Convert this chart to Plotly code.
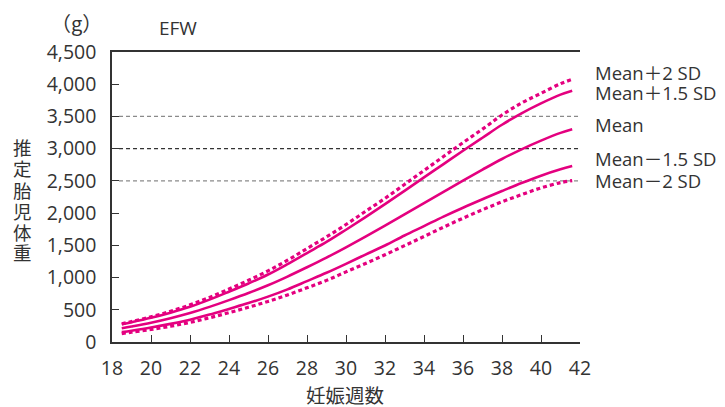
import plotly.graph_objects as go

# ---- data ----
weeks = [18.5, 19, 20, 21, 22, 23, 24, 25, 26, 27, 28, 29, 30,
         31, 32, 33, 34, 35, 36, 37, 38, 39, 40, 41, 41.6]
plus2sd = [282, 317, 390, 477, 576, 692, 822, 958, 1104, 1269, 1450, 1631, 1823,
           2027, 2229, 2445, 2661, 2878, 3094, 3304, 3522, 3708, 3859, 4008, 4076]
plus15sd = [276, 307, 375, 455, 547, 657, 780, 908, 1047, 1208, 1380, 1552, 1742,
            1937, 2139, 2346, 2554, 2761, 2968, 3170, 3371, 3549, 3703, 3839, 3900]
mean = [212, 240, 300, 370, 450, 545, 650, 760, 880, 1015, 1160, 1310, 1470,
        1635, 1805, 1980, 2155, 2330, 2505, 2675, 2840, 2990, 3125, 3245, 3300]
minus15sd = [153, 175, 224, 281, 347, 425, 514, 604, 704, 817, 945, 1074, 1213,
             1357, 1498, 1653, 1799, 1946, 2084, 2215, 2343, 2467, 2581, 2680, 2730]
minus2sd = [131, 151, 194, 244, 304, 376, 455, 540, 629, 731, 841, 956, 1088,
            1218, 1354, 1495, 1638, 1782, 1921, 2052, 2175, 2287, 2391, 2473, 2505]

series = [
    ("Mean＋2 SD", plus2sd, "dot"),
    ("Mean＋1.5 SD", plus15sd, "solid"),
    ("Mean", mean, "solid"),
    ("Mean－1.5 SD", minus15sd, "solid"),
    ("Mean－2 SD", minus2sd, "dot"),
]
label_y_px = [72, 92, 125, 158, 180]  # label positions (pixels from top)

x_ticks = list(range(18, 43, 2))
y_ticks = list(range(0, 4501, 500))
grid_values = [2500, 3000, 3500]
grid_colors = ["#8a8a8a", "#333333", "#8a8a8a"]
y_title_chars = ["推", "定", "胎", "児", "体", "重"]
y_title_px = [147, 168, 190, 211, 232, 252]

MAGENTA = "#E4007F"
TXT = "#333333"
FONT = "Open Sans, Noto Sans CJK JP, sans-serif"
CJK = "Noto Sans CJK JP, sans-serif"

# the page places the figure 8px in from the top-left corner (body margin)
OFF = 8
W, H = 725 - OFF, 407 - OFF
L, R, T, B = 112 - OFF, 725 - 580, 52 - OFF, 407 - 342
PW, PH = W - L - R, H - T - B


def px_x(x):
    return (x - OFF - L) / PW


def px_y(y):
    return 1 - (y - OFF - T) / PH


fig = go.Figure()
for name, vals, style in series:
    fig.add_trace(go.Scatter(
        x=weeks, y=vals, mode="lines", name=name,
        line=dict(color=MAGENTA, width=2.6 if style == "solid" else 3.2,
                  shape="spline", smoothing=1.0,
                  dash="solid" if style == "solid" else "4px,3px"),
        showlegend=False, hoverinfo="skip"))

for gv, gc in zip(grid_values, grid_colors):
    fig.add_shape(type="line", xref="paper", yref="y", x0=0.015, x1=1.0,
                  y0=gv, y1=gv, line=dict(color=gc, width=1.2, dash="4px,3px"),
                  layer="below")

for (name, _, _), ypx in zip(series, label_y_px):
    fig.add_annotation(text=name, xref="paper", yref="paper",
                       x=px_x(593), xanchor="left", y=px_y(ypx), yanchor="middle",
                       showarrow=False, font=dict(size=18.5, color=TXT, family=FONT))

fig.add_annotation(text="EFW", xref="paper", yref="paper",
                   x=px_x(157), xanchor="left", y=px_y(28), yanchor="middle",
                   showarrow=False, font=dict(size=19, color=TXT, family=FONT))
fig.add_annotation(text="（g）", xref="paper", yref="paper",
                   x=px_x(104), xanchor="right", y=px_y(23), yanchor="middle",
                   showarrow=False, font=dict(size=20, color=TXT, family=CJK))
for ch, ypx in zip(y_title_chars, y_title_px):
    fig.add_annotation(text=ch, xref="paper", yref="paper",
                       x=px_x(22), xanchor="center", y=px_y(ypx), yanchor="middle",
                       showarrow=False, font=dict(size=18.5, color=TXT, family=CJK))
fig.add_annotation(text="妊娠週数", xref="paper", yref="paper",
                   x=px_x(345), xanchor="center", y=px_y(394), yanchor="middle",
                   showarrow=False, font=dict(size=19.5, color=TXT, family=CJK))

fig.update_layout(
    width=W, height=H,
    margin=dict(l=L, r=R, t=T, b=B, autoexpand=False),
    paper_bgcolor="white", plot_bgcolor="white",
    font=dict(family=FONT, color=TXT, size=19),
    xaxis=dict(range=[18, 42], tickvals=x_ticks, ticktext=[str(v) for v in x_ticks],
               showgrid=False, zeroline=False, showline=True, linecolor="#333333",
               linewidth=1.5, mirror=True, ticks="inside", ticklen=7, tickwidth=1.2,
               tickcolor="#333333", tickfont=dict(size=19.5, color=TXT),
               ticklabelstandoff=8, automargin=False),
    yaxis=dict(range=[0, 4500], tickvals=y_ticks, tickformat=",",
               showgrid=False, zeroline=False, showline=True, linecolor="#333333",
               linewidth=1.5, ticks="inside", ticklen=7, tickwidth=1.2,
               tickcolor="#333333", tickfont=dict(size=19.5, color=TXT),
               ticklabelstandoff=10, automargin=False),
)

fig.write_html("out.html")
